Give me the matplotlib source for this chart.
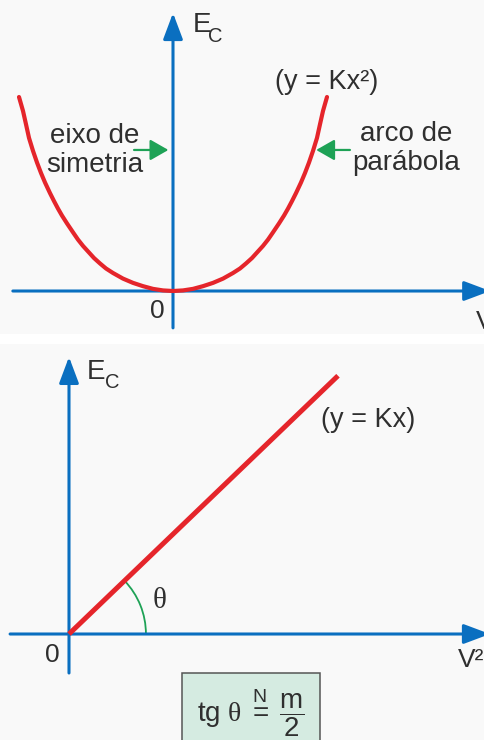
import numpy as np
import matplotlib
matplotlib.use("Agg")
import matplotlib.pyplot as plt
from matplotlib.patches import Arc, Rectangle

plt.rcParams['font.family'] = ['Liberation Sans', 'DejaVu Sans']
plt.rcParams['mathtext.fontset'] = 'custom'
plt.rcParams['mathtext.rm'] = 'Liberation Sans'
plt.rcParams['mathtext.it'] = 'Liberation Serif'
plt.rcParams['mathtext.bf'] = 'Liberation Sans:bold'

# ---- data ----
# top chart: Ec versus v (arc of parabola), right half, mirrored for the left half
v_half = [0.0, 0.065, 0.13, 0.195, 0.26, 0.325, 0.39, 0.435, 0.474, 0.513, 0.545,
          0.584, 0.617, 0.649, 0.688, 0.721, 0.747, 0.773, 0.799, 0.831, 0.857,
          0.883, 0.909, 0.935, 0.955, 0.974, 1.0]
ec_half = [0.0, 0.003, 0.011, 0.025, 0.042, 0.064, 0.093, 0.116, 0.142, 0.170, 0.198,
           0.232, 0.265, 0.302, 0.348, 0.389, 0.425, 0.464, 0.505, 0.559, 0.608,
           0.662, 0.722, 0.789, 0.861, 0.928, 1.0]
# bottom chart: Ec versus v^2 (straight line)
v2_line = [0.0, 1.0]
ec_line = [0.0, 0.96]

parabola_label = "(y = Kx²)"
line_label = "(y = Kx)"
left_note = ["eixo de", "simetria"]
right_note = ["arco de", "parábola"]
formula = r'$\mathrm{tg}\ \theta\ \overset{\mathrm{N}}{=}\ \dfrac{\mathrm{m}}{\mathrm{2}}$'

BLUE = '#0a6fc0'
RED = '#e5252b'
GREEN = '#1ea256'
TXT = '#2f2f2f'
BG = '#f9f9f9'

fig = plt.figure(figsize=(4.84, 7.40), dpi=100, facecolor='white')


def ec_label(ax, x, y, dx, dy):
    ax.text(x, y, "E", fontsize=20, color=TXT, ha='left', va='center')
    ax.text(x + dx, y - dy, "C", fontsize=14.5, color=TXT, ha='left', va='center')


# ================= top panel =================
axt = fig.add_axes([0, 1 - 334 / 740, 1, 334 / 740])
axt.set_facecolor(BG)
axt.set_xlim(-1.1234, 2.0195)
axt.set_ylim(-0.2216, 1.5)
axt.set_xticks([]); axt.set_yticks([])
for s in axt.spines.values():
    s.set_visible(False)

ax_kw = dict(arrowstyle='-|>,head_length=0.8,head_width=0.3', mutation_scale=20,
             lw=2.2, color=BLUE, shrinkA=0, shrinkB=0)
axt.annotate('', xy=(0, 1.433), xytext=(0, -0.19), arrowprops=ax_kw, annotation_clip=False)
axt.annotate('', xy=(2.06, 0), xytext=(-1.04, 0), arrowprops=ax_kw, annotation_clip=False)

xv = [-x for x in v_half[::-1]] + v_half[1:]
yv = ec_half[::-1] + ec_half[1:]
axt.plot(xv, yv, color=RED, lw=3.0, solid_capstyle='round', solid_joinstyle='round', zorder=3)

ec_label(axt, 0.125, 1.37, 0.105, 0.06)
axt.text(0.995, 1.077, parabola_label, fontsize=19.5, color=TXT, ha='center', va='center')
axt.text(-0.506, 0.80, left_note[0], fontsize=20, color=TXT, ha='center', va='center')
axt.text(-0.506, 0.652, left_note[1], fontsize=20, color=TXT, ha='center', va='center')
axt.text(1.513, 0.81, right_note[0], fontsize=20, color=TXT, ha='center', va='center')
axt.text(1.513, 0.658, right_note[1], fontsize=20, color=TXT, ha='center', va='center')
axt.text(-0.10, -0.105, "0", fontsize=19, color=TXT, ha='center', va='center')
axt.text(1.97, -0.16, "V", fontsize=19, color=TXT, ha='left', va='center', clip_on=False)

gr_kw = dict(arrowstyle='-|>,head_length=0.7,head_width=0.4', mutation_scale=16,
             lw=1.6, color=GREEN, shrinkA=0, shrinkB=0)
axt.annotate('', xy=(-0.03, 0.727), xytext=(-0.253, 0.727), arrowprops=gr_kw)
axt.annotate('', xy=(0.93, 0.727), xytext=(1.149, 0.727), arrowprops=gr_kw)

# ================= bottom panel =================
axb = fig.add_axes([0, 0, 1, 396 / 740])
axb.set_facecolor(BG)
axb.set_xlim(-0.2565, 1.5428)
axb.set_ylim(-0.394, 1.078)
axb.set_xticks([]); axb.set_yticks([])
for s in axb.spines.values():
    s.set_visible(False)

axb.annotate('', xy=(0, 1.03), xytext=(0, -0.145), arrowprops=ax_kw, annotation_clip=False)
axb.annotate('', xy=(1.565, 0), xytext=(-0.219, 0), arrowprops=ax_kw, annotation_clip=False)

axb.plot(v2_line, ec_line, color=RED, lw=3.6, solid_capstyle='butt', zorder=3)

ang = np.degrees(np.arctan2(ec_line[1] - ec_line[0], v2_line[1] - v2_line[0]))
axb.add_patch(Arc((0, 0), 0.572, 0.572, theta1=0, theta2=ang, color=GREEN, lw=1.3, zorder=2))

ec_label(axb, 0.066, 0.975, 0.066, 0.04)
axb.text(1.111, 0.796, line_label, fontsize=19.5, color=TXT, ha='center', va='center')
axb.text(0.335, 0.122, "θ", fontsize=21, color=TXT, ha='center', va='center',
         family=['Liberation Serif', 'DejaVu Serif'])
axb.text(-0.063, -0.078, "0", fontsize=19, color=TXT, ha='center', va='center')
axb.text(1.446, -0.097, "V²", fontsize=19, color=TXT, ha='left', va='center', clip_on=False)

axb.add_patch(Rectangle((0.42, -0.43), 0.513, 0.285, facecolor='#d5ebe1',
                        edgecolor='#555555', lw=1.1, clip_on=False, zorder=4))
axb.text(0.6765, -0.295, formula, fontsize=20, color=TXT, ha='center', va='center', zorder=5)

fig.savefig('out.png', dpi=100, facecolor='white')
